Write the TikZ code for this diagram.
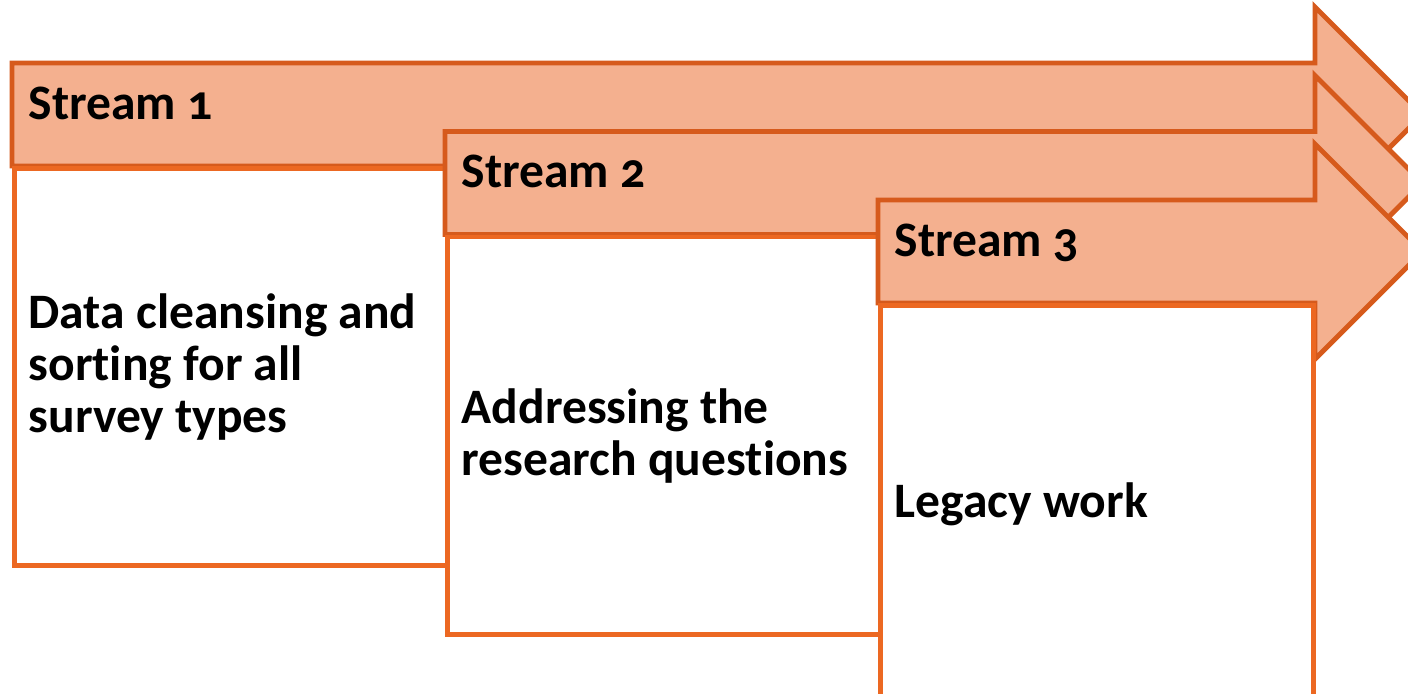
\documentclass[tikz,border=0pt]{standalone}
\usepackage{fontspec}
\setmainfont{Carlito}[Numbers=OldStyle,Ligatures=NoCommon]
\usetikzlibrary{positioning}
\definecolor{streamfill}{HTML}{F4B08F}
\definecolor{streamline}{HTML}{D65A1C}
\definecolor{boxline}{HTML}{EC6822}
\tikzset{
  stream/.style={draw=streamline,fill=streamfill,line width=1.4pt,line join=miter},
  streamlabel/.style={anchor=base west,inner sep=0pt,font=\bfseries\fontsize{14.1}{14.8}\selectfont},
  workbox/.style={draw=boxline,fill=white,line width=1.4pt,anchor=north west,
    minimum width=4.33cm,minimum height=3.97cm},
  worktext/.style={inner sep=0pt,align=left,font=\bfseries\fontsize{14.1}{14.8}\selectfont}
}
\begin{document}
\begin{tikzpicture}[x=0.01cm,y=-0.01cm]
\useasboundingbox[fill=white](0,0) rectangle (1408,693);
% stream 1
\coordinate (s1) at (12,63);
\draw[stream](s1)--(1315,63)--++(0,-56)--++(107.5,107.5)--++(-107.5,107.5)--++(0,-56)--(12,166)--cycle;
\node[streamlabel] (l1) at ([shift={(16,56)}]s1) {Stream 1};
\node[workbox] (w1) at (12,166) {};
\node[worktext,right=0.16cm of w1.west] (t1) {Data cleansing and\\sorting for all\\survey types};
% stream 2
\coordinate (s2) at (445,131.5);
\draw[stream](s2)--(1315,131.5)--++(0,-56)--++(107.5,107.5)--++(-107.5,107.5)--++(0,-56)--(445,234.5)--cycle;
\node[streamlabel] (l2) at ([shift={(16,56)}]s2) {Stream 2};
\node[workbox] (w2) at (445,234.5) {};
\node[worktext,right=0.16cm of w2.west] (t2) {Addressing the\\research questions};
% stream 3
\coordinate (s3) at (878,200);
\draw[stream](s3)--(1315,200)--++(0,-56)--++(107.5,107.5)--++(-107.5,107.5)--++(0,-56)--(878,303)--cycle;
\node[streamlabel] (l3) at ([shift={(16,56)}]s3) {Stream 3};
\node[workbox] (w3) at (878,303) {};
\node[worktext,right=0.16cm of w3.west] (t3) {Legacy work};
\end{tikzpicture}
\end{document}
